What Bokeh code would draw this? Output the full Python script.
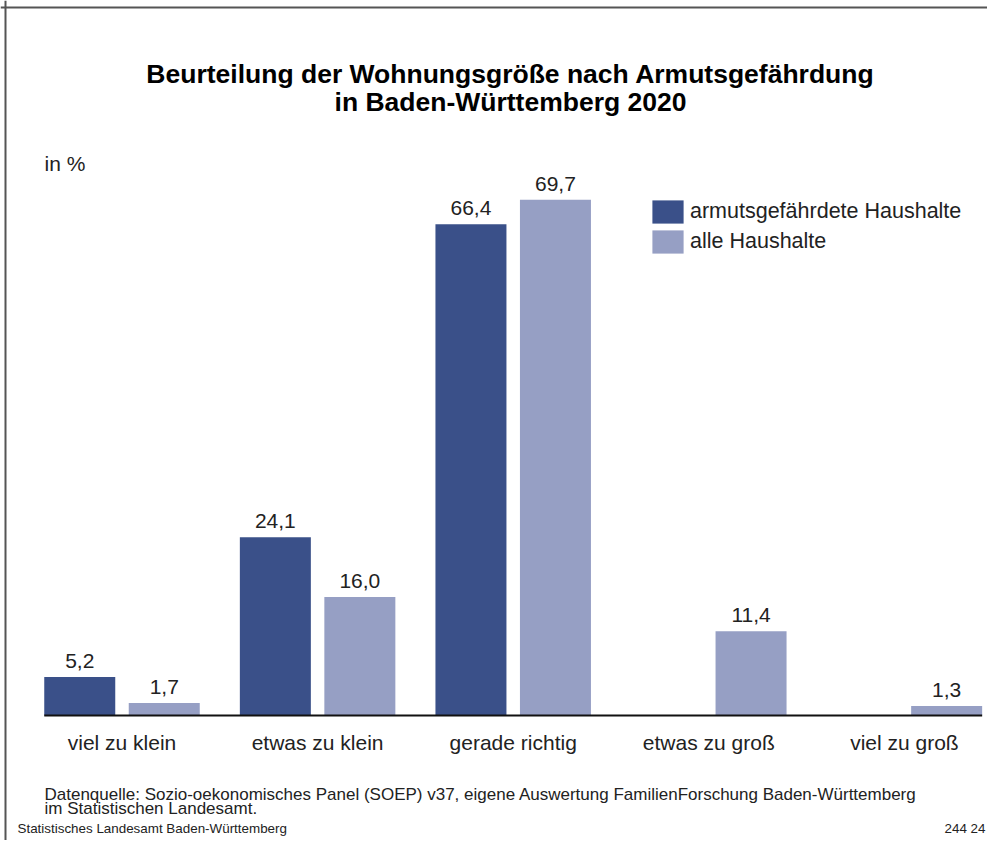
from bokeh.plotting import figure
from bokeh.models import (ColumnDataSource, Range1d, Label, LabelSet, Legend,
                          LegendItem, Span)
from bokeh.embed import file_html
from bokeh.resources import INLINE
from bokeh.core.properties import value

# ---------------- data ----------------
categories = ["viel zu klein", "etwas zu klein", "gerade richtig", "etwas zu groß", "viel zu groß"]
series_names = ["armutsgefährdete Haushalte", "alle Haushalte"]
armutsgefaehrdet = [5.2, 24.1, 66.4, None, None]
alle_haushalte = [1.7, 16.0, 69.7, 11.4, 1.3]

title_lines = ["Beurteilung der Wohnungsgröße nach Armutsgefährdung",
               "in Baden-Württemberg 2020"]
unit_label = "in %"
source_lines = ["Datenquelle: Sozio-oekonomisches Panel (SOEP) v37, eigene Auswertung FamilienForschung Baden-Württemberg",
                "im Statistischen Landesamt."]
footer_left = "Statistisches Landesamt Baden-Württemberg"
footer_right = "244 24"

# ---------------- style ----------------
COLORS = ["#3A5089", "#969FC4"]
FONT = "Liberation Sans"
TXT = "#222222"
W, H = 987, 840
ORIG_X, ORIG_Y = 0, 0        # layout coordinate of the canvas' top-left corner
AXIS_PY = 715                # layout y of the value 0 baseline
CAT0_PX = 121.5              # layout x of the first category centre
PX_PER_CAT = 195.6
PX_PER_UNIT = 7.4
BAR_W = 0.363
OFFSET = 0.216


def xd(px):
    return (px - CAT0_PX) / PX_PER_CAT


def yd(py):
    return (AXIS_PY - py) / PX_PER_UNIT


p = figure(width=W, height=H, output_backend="svg", toolbar_location=None,
           x_range=Range1d(xd(ORIG_X), xd(ORIG_X + W)),
           y_range=Range1d(yd(ORIG_Y + H), yd(ORIG_Y)),
           x_axis_location=None, y_axis_location=None,
           min_border=0, min_border_left=0, min_border_right=0,
           min_border_top=0, min_border_bottom=0)
p.outline_line_color = None
p.xgrid.visible = False
p.ygrid.visible = False
p.background_fill_color = "white"
p.border_fill_color = "white"

# frame lines of the graphic (left and top)
p.add_layout(Span(location=xd(5), dimension="height", line_color="#555555", line_width=2))
p.add_layout(Span(location=yd(7), dimension="width", line_color="#555555", line_width=2))


def fmt(v):
    return f"{v:.1f}".replace(".", ",")


renderers = []
for k, (vals, off) in enumerate([(armutsgefaehrdet, -OFFSET), (alle_haushalte, OFFSET)]):
    xs = [i + off for i, v in enumerate(vals) if v is not None]
    tops = [v for v in vals if v is not None]
    src = ColumnDataSource(dict(x=xs, top=tops, label=[fmt(v) for v in tops]))
    r = p.vbar(x="x", top="top", bottom=0, width=BAR_W, source=src,
               fill_color=COLORS[k], line_color=None)
    renderers.append(r)
    p.add_layout(LabelSet(x="x", y="top", text="label", source=src,
                          text_align="center", text_baseline="alphabetic",
                          y_offset=9, text_font=value(FONT), text_font_size="21px",
                          text_color=TXT))

# category axis: baseline line + category labels
n = len(categories)
ax_x0 = 0 - OFFSET - BAR_W / 2
ax_x1 = (n - 1) + OFFSET + BAR_W / 2
p.segment(x0=[ax_x0], y0=[0], x1=[ax_x1], y1=[0], line_color="#111111", line_width=2)
cat_src = ColumnDataSource(dict(x=list(range(n)), y=[yd(742)] * n, text=categories))
p.text(x="x", y="y", text="text", source=cat_src, text_align="center",
       text_baseline="alphabetic", text_font=value(FONT), text_font_size="21px",
       text_color=TXT)

legend = Legend(items=[LegendItem(label=series_names[i], renderers=[renderers[i]]) for i in range(2)],
                location=(648 - ORIG_X, ORIG_Y + H - 256), orientation="vertical",
                glyph_width=39, glyph_height=29, label_height=29, spacing=1,
                label_standoff=3, padding=0, margin=0,
                border_line_color=None, background_fill_alpha=0,
                label_text_font=FONT, label_text_font_size="21.5px", label_text_color=TXT)
p.add_layout(legend)


def add_text(txt, px, py, size, align="left", bold=False):
    p.add_layout(Label(x=xd(px), y=yd(py), text=txt, text_align=align,
                       text_baseline="alphabetic", text_font=FONT,
                       text_font_size=size, text_color="#000000" if bold else TXT,
                       text_font_style="bold" if bold else "normal"))


add_text(title_lines[0], 510, 73, "26.5px", "center", True)
add_text(title_lines[1], 510, 101, "26.5px", "center", True)
add_text(unit_label, 44, 163, "21px")
add_text(source_lines[0], 44, 794, "17px")
add_text(source_lines[1], 44, 808, "17px")
add_text(footer_left, 17, 828, "13.4px")
add_text(footer_right, 985, 828, "13.4px", "right")

open("out.html", "w").write(file_html(p, INLINE))
